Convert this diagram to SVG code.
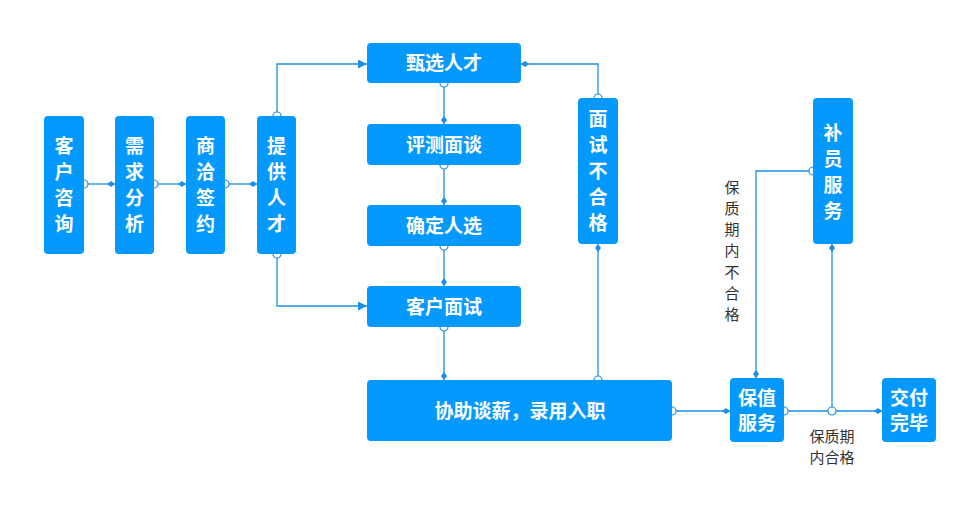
<svg xmlns="http://www.w3.org/2000/svg" width="979" height="511" viewBox="0 0 979 511">
<style>
.node rect{fill:#0399fe;}
.t{font-family:"Noto Sans CJK SC","Noto Sans",sans-serif;font-weight:bold;fill:#fff;font-size:19px;text-anchor:middle;}
.lbl{font-family:"Noto Sans CJK SC","Noto Sans",sans-serif;fill:#333;font-size:15px;text-anchor:middle;}
.c path{fill:none;stroke:#1a8fe8;stroke-width:1.3;}
</style>
<defs>
<marker id="dia" markerUnits="userSpaceOnUse" markerWidth="10" markerHeight="8" refX="8" refY="3.5" orient="auto">
<path d="M0,3.5 L4,0.5 L8,3.5 L4,6.5 z" fill="#1a8fe8"/>
</marker>
<marker id="tri" markerUnits="userSpaceOnUse" markerWidth="10" markerHeight="10" refX="9" refY="4.5" orient="auto">
<path d="M0,0 L9,4.5 L0,9 z" fill="#1a8fe8"/>
</marker>
<marker id="circ" markerUnits="userSpaceOnUse" markerWidth="10" markerHeight="10" refX="5" refY="5" orient="auto">
<circle cx="5" cy="5" r="4" fill="#fff" stroke="#1a8fe8" stroke-width="1.2"/>
</marker>
</defs>
<rect width="979" height="511" fill="#fff"/>
<g class="c" id="connectors">
<path d="M84,184 H115" marker-start="url(#circ)" marker-end="url(#dia)"/>
<path d="M154,184 H186" marker-start="url(#circ)" marker-end="url(#dia)"/>
<path d="M225,184 H257" marker-start="url(#circ)" marker-end="url(#dia)"/>
<path d="M277,116 V64 H367" marker-start="url(#circ)" marker-end="url(#tri)"/>
<path d="M277,254 V306 H367" marker-start="url(#circ)" marker-end="url(#tri)"/>
<path d="M444,83 V124" marker-start="url(#circ)" marker-end="url(#dia)"/>
<path d="M444,165 V205" marker-start="url(#circ)" marker-end="url(#dia)"/>
<path d="M444,246 V286" marker-start="url(#circ)" marker-end="url(#dia)"/>
<path d="M444,327 V380" marker-start="url(#circ)" marker-end="url(#dia)"/>
<path d="M598,380 V244" marker-start="url(#circ)" marker-end="url(#dia)"/>
<path d="M598,98 V64 H521" marker-start="url(#circ)" marker-end="url(#dia)"/>
<path d="M672,411 H730" marker-start="url(#circ)" marker-end="url(#dia)"/>
<path d="M784,411 H882" marker-start="url(#circ)" marker-end="url(#dia)"/>
<path d="M832,411 V244" marker-start="url(#circ)" marker-end="url(#dia)"/>
<path d="M813,171 H756 V378" marker-start="url(#circ)" marker-end="url(#dia)"/>
</g>
<g id="n1" class="node"><rect x="44" y="116" width="40" height="138" rx="4"/>
<text class="t" x="64" y="153">客</text><text class="t" x="64" y="179">户</text><text class="t" x="64" y="205">咨</text><text class="t" x="64" y="231">询</text></g>
<g id="n2" class="node"><rect x="115" y="116" width="39" height="138" rx="4"/>
<text class="t" x="134.5" y="153">需</text><text class="t" x="134.5" y="179">求</text><text class="t" x="134.5" y="205">分</text><text class="t" x="134.5" y="231">析</text></g>
<g id="n3" class="node"><rect x="186" y="116" width="39" height="138" rx="4"/>
<text class="t" x="205.5" y="153">商</text><text class="t" x="205.5" y="179">洽</text><text class="t" x="205.5" y="205">签</text><text class="t" x="205.5" y="231">约</text></g>
<g id="n4" class="node"><rect x="257" y="116" width="39" height="138" rx="4"/>
<text class="t" x="276.5" y="153">提</text><text class="t" x="276.5" y="179">供</text><text class="t" x="276.5" y="205">人</text><text class="t" x="276.5" y="231">才</text></g>
<g id="n5" class="node"><rect x="367" y="43" width="154" height="40" rx="4"/>
<text class="t" x="444" y="70">甄选人才</text></g>
<g id="n6" class="node"><rect x="367" y="124" width="154" height="41" rx="4"/>
<text class="t" x="444" y="151.5">评测面谈</text></g>
<g id="n7" class="node"><rect x="367" y="205" width="154" height="41" rx="4"/>
<text class="t" x="444" y="232.5">确定人选</text></g>
<g id="n8" class="node"><rect x="367" y="286" width="154" height="41" rx="4"/>
<text class="t" x="444" y="313.5">客户面试</text></g>
<g id="n9" class="node"><rect x="367" y="380" width="305" height="61" rx="4"/>
<text class="t" x="520" y="417.5">协助谈薪，录用入职</text></g>
<g id="n10" class="node"><rect x="578" y="98" width="40" height="146" rx="4"/>
<text class="t" x="598" y="126">面</text><text class="t" x="598" y="152">试</text><text class="t" x="598" y="178">不</text><text class="t" x="598" y="204">合</text><text class="t" x="598" y="230">格</text></g>
<g id="n11" class="node"><rect x="813" y="98" width="40" height="146" rx="4"/>
<text class="t" x="833" y="140">补</text><text class="t" x="833" y="166">员</text><text class="t" x="833" y="192">服</text><text class="t" x="833" y="218">务</text></g>
<g id="n12" class="node"><rect x="730" y="378" width="54" height="64" rx="4"/>
<text class="t" x="757" y="405">保值</text><text class="t" x="757" y="430">服务</text></g>
<g id="n13" class="node"><rect x="882" y="378" width="54" height="64" rx="4"/>
<text class="t" x="909" y="405">交付</text><text class="t" x="909" y="430">完毕</text></g>
<g id="labels">
<text class="lbl" x="732" y="192.5">保</text><text class="lbl" x="732" y="213.5">质</text><text class="lbl" x="732" y="234.5">期</text><text class="lbl" x="732" y="256">内</text><text class="lbl" x="732" y="277.5">不</text><text class="lbl" x="732" y="298.5">合</text><text class="lbl" x="732" y="319.5">格</text>
<text class="lbl" x="832" y="442">保质期</text><text class="lbl" x="832" y="463">内合格</text>
</g>
</svg>
